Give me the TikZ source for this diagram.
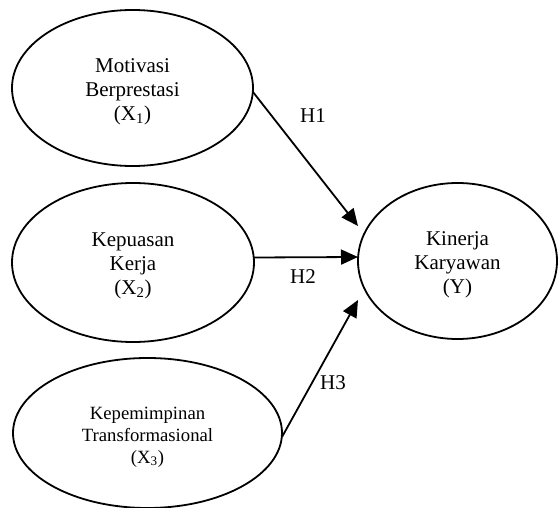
\documentclass[tikz,border=0pt]{standalone}
\usepackage{fontspec}
\setmainfont{Liberation Serif}
\usetikzlibrary{shapes.geometric,arrows.meta}
\begin{document}
\begin{tikzpicture}[x=1pt,y=-1pt,
  latent/.style={ellipse,draw,line width=1.8pt,inner sep=0pt,outer sep=0pt},
  ltext/.style={align=center,inner sep=0pt,font=\fontsize{21}{24}\selectfont},
  hpath/.style={line width=1.8pt,-{Triangle[length=17pt,width=15pt]}},
  hlabel/.style={font=\fontsize{21}{24}\selectfont,inner sep=0pt}]
\useasboundingbox (0,0) rectangle (558,508);
\node[latent,minimum width=241pt,minimum height=156pt] (X1) at (132.5,88) {};
\node[latent,minimum width=242pt,minimum height=159pt] (X2) at (133,262.5) {};
\node[latent,minimum width=269pt,minimum height=150pt] (X3) at (147.5,433) {};
\node[latent,minimum width=199pt,minimum height=156pt] (Y) at (457.5,261) {};
\node[ltext] (X1t) at ([yshift=-4pt]X1.center) {Motivasi\\Berprestasi\\(X\textsubscript{1})};
\node[ltext] (X2t) at ([yshift=-3pt]X2.center) {Kepuasan\\Kerja\\(X\textsubscript{2})};
\node[ltext,font=\fontsize{18.7}{22}\selectfont] (X3t) at ([yshift=-4pt]X3.center) {Kepemimpinan\\Transformasional\\(X\textsubscript{3})};
\node[ltext] (Yt) at ([yshift=-4pt]Y.center) {Kinerja\\Karyawan\\(Y)};
\draw[hpath] ([yshift=-4pt]X1.east) -- ([yshift=35pt]Y.west);
\draw[hpath] ([yshift=5pt]X2.east) -- ([yshift=4pt]Y.west);
\draw[hpath] ([yshift=-4pt]X3.east) -- ([yshift=-39pt]Y.west);
\node[hlabel] (h1) at (313,116) {H1};
\node[hlabel] (h2) at (303,277) {H2};
\node[hlabel] (h3) at (333,383) {H3};
\end{tikzpicture}
\end{document}
